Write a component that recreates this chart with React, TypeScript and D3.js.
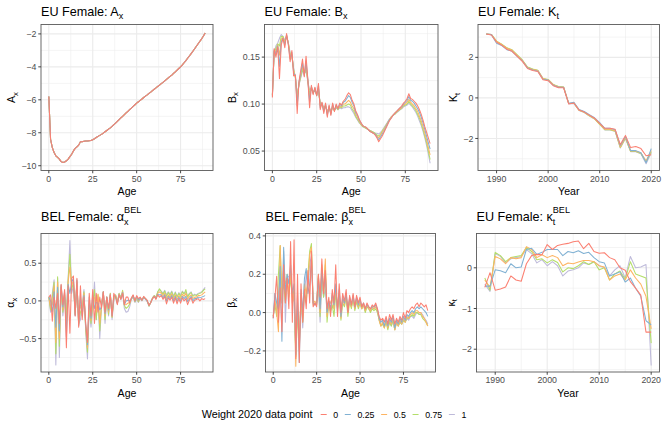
import * as d3 from 'd3';

const FONT = '"Liberation Sans", Arial, Helvetica, sans-serif';
const W = 664;
const H = 426;

// ---- categories ----
const ages = d3.range(0, 90);
const years = d3.range(1988, 2021);
const weightLabels = ['0', '0.25', '0.5', '0.75', '1'];
const weightColors = ['#FB8072', '#80B1D3', '#FDB462', '#B3DE69', '#BEBADA'];

// ---- EU Female A_x (all weights coincide) ----
const axEU = [
  -5.80, -8.40, -8.90, -9.20, -9.40, -9.50, -9.60, -9.75, -9.80, -9.78,
  -9.70, -9.60, -9.45, -9.30, -9.10, -8.95, -8.85, -8.75, -8.55, -8.55,
  -8.52, -8.50, -8.50, -8.48, -8.47, -8.42, -8.36, -8.29, -8.22, -8.16,
  -8.10, -8.02, -7.94, -7.86, -7.78, -7.70, -7.61, -7.51, -7.41, -7.31,
  -7.20, -7.10, -7.00, -6.90, -6.80, -6.70, -6.60, -6.50, -6.40, -6.30,
  -6.20, -6.12, -6.03, -5.95, -5.86, -5.78, -5.70, -5.61, -5.53, -5.44,
  -5.36, -5.28, -5.19, -5.11, -5.02, -4.94, -4.85, -4.76, -4.67, -4.58,
  -4.50, -4.40, -4.30, -4.20, -4.10, -4.00, -3.88, -3.75, -3.62, -3.48,
  -3.34, -3.20, -3.05, -2.90, -2.75, -2.60, -2.45, -2.30, -2.13, -1.95,
];

// ---- EU Female B_x ----
const bxW0 = [
  0.107, 0.159, 0.150, 0.161, 0.127, 0.163, 0.170, 0.160, 0.175, 0.163,
  0.145, 0.157, 0.130, 0.131, 0.090, 0.124, 0.136, 0.148, 0.129, 0.151,
  0.126, 0.096, 0.120, 0.110, 0.118, 0.109, 0.122, 0.094, 0.102, 0.090,
  0.101, 0.086, 0.099, 0.088, 0.101, 0.092, 0.100, 0.095, 0.101, 0.099,
  0.103, 0.105, 0.109, 0.112, 0.110, 0.104, 0.100, 0.093, 0.089, 0.084,
  0.080, 0.077, 0.076, 0.075, 0.073, 0.071, 0.070, 0.069, 0.067, 0.064,
  0.060, 0.063, 0.066, 0.070, 0.074, 0.078, 0.082, 0.085, 0.088, 0.090,
  0.092, 0.094, 0.096, 0.098, 0.101, 0.103, 0.106, 0.111, 0.106, 0.105,
  0.103, 0.101, 0.098, 0.094, 0.089, 0.083, 0.076, 0.070, 0.064, 0.058,
];
const bxW025 = [
  0.108, 0.158, 0.153, 0.162, 0.140, 0.166, 0.170, 0.163, 0.174, 0.164,
  0.148, 0.155, 0.133, 0.130, 0.098, 0.123, 0.133, 0.144, 0.130, 0.146,
  0.126, 0.102, 0.119, 0.111, 0.117, 0.109, 0.120, 0.096, 0.101, 0.092,
  0.100, 0.088, 0.098, 0.089, 0.100, 0.093, 0.099, 0.095, 0.100, 0.098,
  0.102, 0.103, 0.106, 0.109, 0.107, 0.102, 0.098, 0.091, 0.088, 0.083,
  0.080, 0.077, 0.076, 0.075, 0.073, 0.071, 0.070, 0.069, 0.068, 0.065,
  0.062, 0.065, 0.068, 0.071, 0.075, 0.079, 0.083, 0.085, 0.088, 0.090,
  0.092, 0.094, 0.096, 0.097, 0.100, 0.102, 0.104, 0.108, 0.104, 0.103,
  0.101, 0.098, 0.095, 0.091, 0.086, 0.080, 0.073, 0.066, 0.059, 0.052,
];
const bxW05 = [
  0.109, 0.157, 0.156, 0.163, 0.152, 0.169, 0.171, 0.165, 0.173, 0.165,
  0.151, 0.153, 0.135, 0.129, 0.104, 0.122, 0.131, 0.140, 0.131, 0.142,
  0.125, 0.107, 0.118, 0.112, 0.116, 0.109, 0.117, 0.098, 0.101, 0.094,
  0.099, 0.090, 0.097, 0.090, 0.098, 0.093, 0.098, 0.095, 0.098, 0.097,
  0.100, 0.100, 0.102, 0.104, 0.102, 0.098, 0.095, 0.089, 0.086, 0.082,
  0.079, 0.077, 0.076, 0.075, 0.073, 0.071, 0.070, 0.069, 0.068, 0.066,
  0.064, 0.067, 0.070, 0.073, 0.076, 0.080, 0.083, 0.086, 0.088, 0.090,
  0.092, 0.093, 0.095, 0.096, 0.099, 0.100, 0.102, 0.105, 0.102, 0.100,
  0.098, 0.095, 0.092, 0.087, 0.082, 0.076, 0.069, 0.062, 0.054, 0.046,
];
const bxW075 = [
  0.110, 0.156, 0.159, 0.164, 0.162, 0.172, 0.172, 0.166, 0.172, 0.165,
  0.153, 0.151, 0.137, 0.128, 0.108, 0.121, 0.129, 0.137, 0.132, 0.138,
  0.125, 0.111, 0.117, 0.112, 0.115, 0.110, 0.115, 0.100, 0.100, 0.095,
  0.098, 0.091, 0.096, 0.091, 0.097, 0.093, 0.097, 0.094, 0.097, 0.096,
  0.098, 0.098, 0.099, 0.100, 0.099, 0.095, 0.092, 0.087, 0.084, 0.081,
  0.078, 0.076, 0.075, 0.074, 0.073, 0.072, 0.071, 0.070, 0.069, 0.067,
  0.066, 0.068, 0.071, 0.074, 0.077, 0.080, 0.083, 0.086, 0.088, 0.089,
  0.091, 0.093, 0.094, 0.096, 0.098, 0.099, 0.100, 0.103, 0.100, 0.098,
  0.096, 0.093, 0.089, 0.085, 0.079, 0.073, 0.066, 0.059, 0.050, 0.041,
];
const bxW1 = [
  0.110, 0.155, 0.162, 0.165, 0.170, 0.174, 0.172, 0.168, 0.172, 0.165,
  0.155, 0.150, 0.138, 0.128, 0.112, 0.120, 0.128, 0.135, 0.133, 0.135,
  0.124, 0.115, 0.117, 0.113, 0.115, 0.110, 0.113, 0.102, 0.100, 0.097,
  0.097, 0.093, 0.096, 0.093, 0.096, 0.094, 0.096, 0.094, 0.096, 0.095,
  0.096, 0.096, 0.097, 0.097, 0.096, 0.093, 0.090, 0.086, 0.083, 0.080,
  0.078, 0.076, 0.075, 0.074, 0.073, 0.072, 0.071, 0.070, 0.069, 0.069,
  0.068, 0.070, 0.072, 0.075, 0.078, 0.081, 0.084, 0.086, 0.088, 0.089,
  0.091, 0.092, 0.094, 0.095, 0.097, 0.098, 0.099, 0.101, 0.099, 0.097,
  0.094, 0.091, 0.087, 0.082, 0.077, 0.071, 0.064, 0.056, 0.047, 0.037,
];

// ---- EU Female K_t ----
const ktW0 = [3.15, 3.10, 2.75, 2.60, 2.40, 2.30, 2.05, 1.80, 1.45, 1.35, 1.30, 0.90, 0.85, 0.60, 0.50, 0.50, -0.30, -0.25, -0.60, -0.70, -0.85, -1.00, -1.25, -1.50, -1.50, -1.55, -2.30, -1.85, -2.45, -2.40, -2.50, -2.85, -2.80];
const ktW025 = [3.15, 3.12, 2.70, 2.58, 2.38, 2.30, 2.05, 1.82, 1.48, 1.38, 1.32, 0.92, 0.88, 0.62, 0.52, 0.52, -0.27, -0.22, -0.57, -0.67, -0.83, -0.98, -1.22, -1.50, -1.50, -1.57, -2.35, -1.90, -2.60, -2.60, -2.70, -3.20, -2.50];
const ktW05 = [3.15, 3.13, 2.78, 2.63, 2.45, 2.35, 2.10, 1.85, 1.50, 1.40, 1.35, 0.95, 0.90, 0.65, 0.55, 0.53, -0.28, -0.25, -0.60, -0.70, -0.87, -1.02, -1.28, -1.55, -1.55, -1.62, -2.42, -1.95, -2.62, -2.62, -2.72, -3.10, -2.60];
const ktW075 = [3.15, 3.13, 2.80, 2.65, 2.47, 2.37, 2.12, 1.87, 1.52, 1.42, 1.36, 0.96, 0.91, 0.66, 0.56, 0.54, -0.28, -0.26, -0.61, -0.71, -0.88, -1.03, -1.30, -1.57, -1.57, -1.64, -2.45, -1.98, -2.64, -2.64, -2.74, -3.15, -2.65];
const ktW1 = [3.15, 3.12, 2.78, 2.64, 2.46, 2.36, 2.11, 1.86, 1.51, 1.41, 1.35, 0.95, 0.90, 0.65, 0.55, 0.53, -0.29, -0.27, -0.62, -0.72, -0.89, -1.04, -1.30, -1.58, -1.58, -1.65, -2.47, -2.00, -2.65, -2.65, -2.75, -3.25, -2.70];

// ---- BEL Female alpha_x ----
const alphaW0 = [
  0.05, 0.08, -0.27, 0.05, -0.10, 0.10, -0.30, 0.22, -0.05, 0.15,
  -0.62, 0.20, -0.43, 0.30, 0.33, -0.20, 0.30, -0.35, 0.20, -0.25,
  0.05, -0.30, -0.55, 0.10, -0.20, 0.15, -0.30, 0.10, -0.15, 0.05,
  -0.10, 0.12, -0.15, 0.05, -0.10, 0.08, -0.20, 0.10, 0.05, -0.05,
  0.08, 0.02, 0.10, -0.05, 0.05, 0.05, -0.03, 0.04, 0.08, 0.00,
  0.07, 0.03, 0.05, 0.01, 0.06, 0.03, 0.01, -0.06, -0.02, 0.03,
  0.06, 0.02, 0.08, 0.05, 0.07, 0.02, 0.06, -0.04, 0.04, 0.01,
  0.05, -0.03, 0.04, -0.04, 0.03, -0.03, 0.04, 0.00, 0.03, -0.05,
  0.01, 0.04, -0.03, 0.01, 0.02, 0.03, 0.00, 0.03, 0.02, 0.03,
];
const alphaW025 = [
  0.05, 0.00, -0.15, 0.12, -0.35, 0.18, -0.40, 0.21, -0.08, 0.12,
  -0.48, 0.22, 0.10, 0.25, 0.30, -0.19, 0.28, -0.33, 0.07, -0.20,
  0.07, -0.32, -0.58, 0.05, -0.23, 0.08, -0.10, -0.02, -0.03, -0.12,
  -0.08, 0.12, -0.17, 0.05, -0.12, 0.08, -0.20, 0.07, 0.06, -0.04,
  0.08, 0.02, 0.11, -0.05, 0.00, 0.01, 0.00, 0.03, 0.07, 0.00,
  0.06, 0.01, 0.04, 0.01, 0.05, 0.03, 0.00, -0.06, -0.02, 0.03,
  0.06, 0.03, 0.09, 0.08, 0.08, 0.04, 0.08, 0.00, 0.06, 0.03,
  0.07, 0.00, 0.06, -0.01, 0.05, 0.00, 0.06, 0.03, 0.06, -0.01,
  0.03, 0.06, 0.00, 0.03, 0.03, 0.05, 0.04, 0.05, 0.06, 0.07,
];
const alphaW05 = [
  0.05, -0.08, -0.05, 0.20, -0.55, 0.25, -0.50, 0.20, -0.12, 0.10,
  -0.35, 0.25, 0.45, 0.20, 0.28, -0.18, 0.27, -0.32, -0.05, -0.15,
  0.10, -0.35, -0.62, 0.00, -0.26, 0.02, 0.05, -0.15, 0.09, -0.30,
  -0.06, 0.12, -0.20, 0.05, -0.15, 0.09, -0.21, 0.05, 0.07, -0.03,
  0.09, 0.03, 0.12, -0.05, -0.05, -0.03, -0.02, 0.03, 0.07, 0.00,
  0.05, 0.00, 0.04, 0.01, 0.05, 0.03, 0.00, -0.06, -0.02, 0.03,
  0.06, 0.04, 0.10, 0.12, 0.10, 0.07, 0.10, 0.03, 0.08, 0.05,
  0.09, 0.03, 0.08, 0.02, 0.07, 0.03, 0.09, 0.06, 0.10, 0.02,
  0.06, 0.08, 0.03, 0.05, 0.05, 0.07, 0.07, 0.08, 0.10, 0.12,
];
const alphaW075 = [
  0.05, -0.12, 0.05, 0.25, -0.70, 0.32, -0.60, 0.18, -0.15, 0.08,
  -0.20, 0.28, 0.62, 0.15, 0.25, -0.18, 0.25, -0.30, -0.15, -0.10,
  0.12, -0.38, -0.68, -0.05, -0.30, -0.05, 0.15, -0.25, 0.08, -0.40,
  -0.05, 0.12, -0.25, 0.05, -0.18, 0.10, -0.22, 0.03, 0.08, -0.02,
  0.10, 0.04, 0.14, -0.06, -0.10, -0.08, -0.04, 0.03, 0.06, -0.01,
  0.04, -0.01, 0.04, 0.01, 0.05, 0.03, 0.00, -0.07, -0.02, 0.04,
  0.07, 0.05, 0.12, 0.16, 0.12, 0.09, 0.13, 0.06, 0.11, 0.07,
  0.12, 0.05, 0.11, 0.05, 0.10, 0.06, 0.12, 0.09, 0.15, 0.05,
  0.09, 0.11, 0.06, 0.08, 0.07, 0.09, 0.10, 0.11, 0.14, 0.16,
];
const alphaW1 = [
  0.05, -0.15, 0.10, 0.28, -0.85, 0.30, -0.75, 0.15, -0.20, 0.05,
  -0.10, 0.30, 0.80, 0.10, 0.20, -0.20, 0.25, -0.30, -0.25, -0.05,
  0.15, -0.40, -0.77, -0.10, -0.35, -0.10, 0.25, -0.25, 0.05, -0.50,
  -0.05, 0.12, -0.30, 0.05, -0.20, 0.10, -0.25, 0.00, 0.08, -0.02,
  0.10, 0.05, 0.12, -0.10, -0.15, -0.14, -0.08, 0.02, 0.05, -0.02,
  0.02, -0.02, 0.03, 0.00, 0.04, 0.02, -0.01, -0.07, -0.02, 0.04,
  0.07, 0.05, 0.12, 0.15, 0.13, 0.10, 0.14, 0.08, 0.12, 0.09,
  0.13, 0.07, 0.12, 0.06, 0.11, 0.08, 0.13, 0.10, 0.12, 0.06,
  0.10, 0.12, 0.07, 0.09, 0.08, 0.10, 0.11, 0.12, 0.15, 0.18,
];

// ---- BEL Female beta_x ----
const betaW0 = [
  -0.03, 0.08, 0.19, -0.05, 0.13, -0.10, 0.25, 0.05, 0.18, 0.02,
  0.37, -0.05, 0.38, -0.24, 0.20, -0.26, 0.15, -0.05, 0.12, 0.02,
  0.22, 0.05, 0.32, 0.03, 0.05, 0.03, 0.20, 0.08, 0.28, 0.10,
  0.22, 0.02, 0.08, -0.02, 0.12, 0.05, 0.25, -0.02, 0.15, 0.00,
  0.10, 0.06, 0.12, 0.00, 0.09, 0.04, 0.10, 0.03, 0.09, 0.05,
  0.08, 0.03, 0.05, 0.02, 0.05, 0.03, 0.02, 0.04, 0.03, 0.05,
  0.02, -0.02, -0.04, -0.03, -0.05, -0.02, -0.06, -0.01, -0.04, -0.01,
  -0.06, -0.03, -0.05, -0.02, -0.04, 0.00, -0.03, 0.01, 0.00, 0.02,
  0.03, 0.02, 0.04, 0.05, 0.03, 0.05, 0.04, 0.03, 0.04, 0.01,
];
const betaW025 = [
  -0.03, 0.10, 0.05, 0.02, 0.24, -0.15, 0.34, 0.10, 0.20, 0.15,
  0.25, 0.10, 0.15, -0.22, 0.10, -0.26, 0.12, 0.00, 0.18, 0.23,
  0.10, 0.15, 0.28, 0.05, 0.04, 0.05, 0.18, 0.02, 0.22, 0.12,
  0.20, 0.00, 0.06, 0.02, 0.10, 0.04, 0.15, 0.00, 0.12, -0.02,
  0.08, 0.05, 0.10, 0.01, 0.08, 0.04, 0.09, 0.03, 0.08, 0.04,
  0.07, 0.03, 0.05, 0.02, 0.04, 0.03, 0.02, 0.03, 0.03, 0.04,
  0.02, -0.03, -0.05, -0.04, -0.07, -0.03, -0.07, -0.03, -0.05, -0.02,
  -0.08, -0.04, -0.06, -0.03, -0.05, -0.02, -0.04, -0.01, -0.02, 0.00,
  0.01, 0.00, 0.02, 0.03, 0.02, 0.03, 0.02, 0.01, 0.00, -0.02,
];
const betaW05 = [
  -0.02, 0.06, 0.00, -0.10, 0.35, 0.05, 0.25, 0.15, 0.18, 0.10,
  0.22, 0.05, 0.10, -0.28, 0.05, -0.20, 0.10, -0.02, 0.15, 0.10,
  0.15, 0.30, 0.34, 0.05, 0.06, 0.04, 0.19, 0.00, 0.25, 0.10,
  0.28, -0.02, 0.04, 0.05, 0.08, 0.02, 0.12, 0.03, 0.10, -0.03,
  0.07, 0.04, 0.09, 0.00, 0.07, 0.03, 0.08, 0.02, 0.07, 0.03,
  0.06, 0.02, 0.04, 0.01, 0.04, 0.02, 0.01, 0.03, 0.02, 0.03,
  0.01, -0.04, -0.07, -0.05, -0.08, -0.04, -0.08, -0.04, -0.06, -0.03,
  -0.09, -0.05, -0.07, -0.04, -0.06, -0.03, -0.05, -0.02, -0.03, -0.01,
  0.00, -0.01, 0.01, 0.01, 0.00, 0.00, -0.02, -0.03, -0.05, -0.07,
];
const betaW075 = [
  -0.02, 0.04, -0.02, 0.20, 0.35, 0.10, 0.15, 0.05, 0.20, 0.08,
  0.18, 0.08, 0.12, -0.23, 0.00, -0.15, 0.08, -0.05, 0.12, 0.05,
  0.20, 0.32, 0.36, 0.04, 0.05, 0.04, 0.20, -0.02, 0.23, 0.08,
  0.25, -0.05, 0.05, 0.00, 0.04, -0.02, 0.10, 0.02, 0.08, -0.04,
  0.05, 0.03, 0.08, -0.02, 0.06, 0.02, 0.07, 0.01, 0.06, 0.02,
  0.05, 0.02, 0.04, 0.00, 0.03, 0.02, 0.00, 0.02, 0.01, 0.02,
  0.00, -0.04, -0.07, -0.06, -0.08, -0.05, -0.09, -0.05, -0.07, -0.04,
  -0.09, -0.05, -0.07, -0.05, -0.06, -0.04, -0.05, -0.03, -0.03, -0.02,
  -0.01, -0.02, 0.00, 0.00, -0.01, -0.01, -0.03, -0.04, -0.05, -0.07,
];
const betaW1 = [
  -0.02, 0.10, 0.00, 0.10, 0.20, 0.05, 0.32, -0.05, 0.18, 0.19,
  0.20, 0.10, 0.05, -0.20, 0.02, -0.18, 0.05, -0.08, 0.10, 0.20,
  0.15, 0.25, 0.30, 0.05, 0.04, 0.05, 0.12, -0.05, 0.15, 0.08,
  0.12, 0.00, 0.06, 0.05, 0.07, 0.02, 0.14, 0.02, 0.10, 0.02,
  0.06, 0.05, 0.07, 0.02, 0.06, 0.03, 0.07, 0.02, 0.06, 0.03,
  0.05, 0.02, 0.04, 0.01, 0.03, 0.02, 0.01, 0.02, 0.02, 0.03,
  0.01, -0.03, -0.07, -0.06, -0.07, -0.05, -0.08, -0.05, -0.07, -0.04,
  -0.09, -0.05, -0.07, -0.05, -0.06, -0.04, -0.05, -0.03, -0.04, -0.02,
  -0.02, -0.03, -0.01, 0.00, -0.01, 0.00, -0.01, -0.03, -0.04, -0.06,
];

// ---- EU Female kappa_t^BEL ----
const kappaW0 = [-0.48, -0.12, -0.55, -0.52, -0.47, -0.20, -0.30, -0.33, 0.10, 0.30, 0.33, 0.32, 0.57, 0.45, 0.55, 0.58, 0.60, 0.64, 0.66, 0.47, 0.60, 0.40, 0.36, 0.37, 0.25, 0.20, 0.00, -0.06, -0.34, -0.50, -0.67, -1.58, -1.58];
const kappaW025 = [-0.45, -0.45, -0.05, -0.07, -0.12, 0.10, 0.00, 0.02, 0.45, 0.48, 0.33, 0.38, 0.45, 0.45, 0.45, 0.30, 0.40, 0.37, 0.42, 0.35, 0.38, 0.25, 0.15, 0.12, -0.20, -0.15, -0.10, -0.35, -0.25, -0.50, -0.70, -1.30, -1.40];
const kappaW05 = [-0.30, -0.48, 0.28, 0.22, 0.10, 0.25, 0.22, 0.25, 0.52, 0.45, 0.25, 0.32, 0.25, 0.30, 0.25, 0.05, 0.12, 0.10, 0.14, 0.18, 0.18, 0.15, 0.05, 0.02, -0.30, -0.20, -0.15, -0.30, -0.05, -0.25, -0.40, -0.70, -1.50];
const kappaW075 = [-0.25, -0.55, 0.38, 0.30, 0.15, 0.25, 0.28, 0.30, 0.50, 0.40, 0.20, 0.22, 0.12, 0.20, 0.13, -0.10, 0.00, -0.02, 0.05, 0.15, 0.08, 0.15, -0.05, 0.00, -0.30, -0.15, -0.08, -0.28, 0.15, -0.15, -0.20, -0.25, -1.85];
const kappaW1 = [-0.40, -0.58, 0.35, 0.28, 0.12, 0.22, 0.25, 0.28, 0.45, 0.35, 0.12, 0.20, 0.05, 0.15, 0.05, -0.20, -0.08, -0.05, 0.00, 0.12, 0.08, 0.15, 0.05, 0.00, -0.20, -0.05, 0.05, -0.25, 0.28, 0.00, 0.02, 0.08, -2.40];

const ageTicks = [0, 25, 50, 75];
const ageMinor = [12.5, 37.5, 62.5, 87.5];
const yearTicks = [1990, 2000, 2010, 2020];
const yearMinor = [1995, 2005, 2015];

type Label = { prefix?: string; base: string; sub: string; sup?: string };

interface PanelSpec {
  box: [number, number, number, number];
  titleY: number;
  yTitleX: number;
  x: number[];
  series: number[][];
  xDomain: [number, number];
  yDomain: [number, number];
  xTicks: number[];
  xMinor: number[];
  yTicks: number[];
  yMinor: number[];
  yFmt: (v: number) => string;
  title: Label;
  xTitle: string;
  yTitle: Label;
}

const minus = (s: string) => s.replace('-', '\u2212');
const fmt0 = (v: number) => minus(d3.format('d')(v));
const fmt1 = (v: number) => minus(d3.format('.1f')(v));
const fmt2 = (v: number) => minus(d3.format('.2f')(v));

const panels: PanelSpec[] = [
  {
    box: [41, 24.5, 213, 170.5], titleY: 16, yTitleX: 11.5,
    x: ages, series: [axEU, axEU, axEU, axEU, axEU],
    xDomain: [-4.45, 93.45], yDomain: [-10.29, -1.43],
    xTicks: ageTicks, xMinor: ageMinor, yTicks: [-10, -8, -6, -4, -2], yMinor: [-9, -7, -5, -3],
    yFmt: fmt0, title: { prefix: 'EU Female: ', base: 'A', sub: 'x' }, xTitle: 'Age', yTitle: { base: 'A', sub: 'x' },
  },
  {
    box: [264.5, 24.5, 438, 170.5], titleY: 16, yTitleX: 232,
    x: ages, series: [bxW0, bxW025, bxW05, bxW075, bxW1],
    xDomain: [-4.45, 93.45], yDomain: [0.0293, 0.1847],
    xTicks: ageTicks, xMinor: ageMinor, yTicks: [0.05, 0.1, 0.15], yMinor: [0.075, 0.125, 0.175],
    yFmt: fmt2, title: { prefix: 'EU Female: ', base: 'B', sub: 'x' }, xTitle: 'Age', yTitle: { base: 'B', sub: 'x' },
  },
  {
    box: [478, 24.5, 659.5, 170.5], titleY: 16, yTitleX: 453.5,
    x: years, series: [ktW0, ktW025, ktW05, ktW075, ktW1],
    xDomain: [1986.4, 2021.6], yDomain: [-3.58, 3.62],
    xTicks: yearTicks, xMinor: yearMinor, yTicks: [-2, 0, 2], yMinor: [-3, -1, 1, 3],
    yFmt: fmt0, title: { prefix: 'EU Female: ', base: 'K', sub: 't' }, xTitle: 'Year', yTitle: { base: 'K', sub: 't' },
  },
  {
    box: [41, 233.5, 213, 372], titleY: 220.5, yTitleX: 10.5,
    x: ages, series: [alphaW0, alphaW025, alphaW05, alphaW075, alphaW1],
    xDomain: [-4.45, 93.45], yDomain: [-0.943, 0.894],
    xTicks: ageTicks, xMinor: ageMinor, yTicks: [-0.5, 0, 0.5], yMinor: [-0.75, -0.25, 0.25, 0.75],
    yFmt: fmt1, title: { prefix: 'BEL Female: ', base: '\u03b1', sub: 'x', sup: 'BEL' }, xTitle: 'Age', yTitle: { base: '\u03b1', sub: 'x' },
  },
  {
    box: [265.5, 233.5, 435.5, 372], titleY: 220.5, yTitleX: 231,
    x: ages, series: [betaW0, betaW025, betaW05, betaW075, betaW1],
    xDomain: [-4.45, 93.45], yDomain: [-0.31, 0.4125],
    xTicks: ageTicks, xMinor: ageMinor, yTicks: [-0.2, 0, 0.2, 0.4], yMinor: [-0.3, -0.1, 0.1, 0.3],
    yFmt: fmt1, title: { prefix: 'BEL Female: ', base: '\u03b2', sub: 'x', sup: 'BEL' }, xTitle: 'Age', yTitle: { base: '\u03b2', sub: 'x' },
  },
  {
    box: [476.5, 233.5, 659.5, 372], titleY: 220.5, yTitleX: 451,
    x: years, series: [kappaW0, kappaW025, kappaW05, kappaW075, kappaW1],
    xDomain: [1986.4, 2021.6], yDomain: [-2.56, 0.843],
    xTicks: yearTicks, xMinor: yearMinor, yTicks: [-2, -1, 0], yMinor: [-2.5, -1.5, -0.5, 0.5],
    yFmt: fmt0, title: { prefix: 'EU Female: ', base: '\u03ba', sub: 't', sup: 'BEL' }, xTitle: 'Year', yTitle: { base: '\u03ba', sub: 't' },
  },
];

// plotmath-like label: base with subscript, optional superscript stacked above it
function MathSpans({ label, size }: { label: Label; size: number }) {
  const s = size * 0.72;
  const subW = (label.sub === 't' ? 0.278 : 0.5) * s;
  return (
    <>
      <tspan>{(label.prefix ?? '') + label.base}</tspan>
      <tspan fontSize={s} dy={label.sup ? size * 0.32 : size * 0.24}>{label.sub}</tspan>
      {label.sup && (
        <tspan fontSize={s} dx={-subW} dy={-size * 0.95}>{label.sup}</tspan>
      )}
    </>
  );
}

function Panel({ p }: { p: PanelSpec }) {
  const [l, t, r, b] = p.box;
  const x = d3.scaleLinear().domain(p.xDomain).range([l, r]);
  const y = d3.scaleLinear().domain(p.yDomain).range([b, t]);
  const line = d3.line<number>().x((_, i) => x(p.x[i])).y((d) => y(d));
  const tickLen = 2.75;
  // draw weight 1 first so weight 0 ends up on top
  const order = [4, 3, 2, 1, 0];

  return (
    <g>
      <rect x={l} y={t} width={r - l} height={b - t} fill="#fff" />
      {p.xMinor.map((v) => (
        <line key={'xm' + v} x1={x(v)} x2={x(v)} y1={t} y2={b} stroke="#EBEBEB" strokeWidth={0.55} />
      ))}
      {p.yMinor.map((v) => (
        <line key={'ym' + v} x1={l} x2={r} y1={y(v)} y2={y(v)} stroke="#EBEBEB" strokeWidth={0.55} />
      ))}
      {p.xTicks.map((v) => (
        <line key={'xg' + v} x1={x(v)} x2={x(v)} y1={t} y2={b} stroke="#EBEBEB" strokeWidth={1.1} />
      ))}
      {p.yTicks.map((v) => (
        <line key={'yg' + v} x1={l} x2={r} y1={y(v)} y2={y(v)} stroke="#EBEBEB" strokeWidth={1.1} />
      ))}
      {order.map((k) => (
        <path key={'s' + k} d={line(p.series[k]) ?? ''} fill="none" stroke={weightColors[k]} strokeWidth={1.05} strokeLinejoin="round" />
      ))}
      <rect x={l} y={t} width={r - l} height={b - t} fill="none" stroke="#5a5a5a" strokeWidth={0.9} />
      {p.xTicks.map((v) => (
        <g key={'xt' + v}>
          <line x1={x(v)} x2={x(v)} y1={b} y2={b + tickLen} stroke="#333" strokeWidth={0.9} />
          <text x={x(v)} y={b + 11.2} textAnchor="middle" fontSize={8.8} fill="#4D4D4D">{fmt0(v)}</text>
        </g>
      ))}
      {p.yTicks.map((v) => (
        <g key={'yt' + v}>
          <line x1={l - tickLen} x2={l} y1={y(v)} y2={y(v)} stroke="#333" strokeWidth={0.9} />
          <text x={l - 4.6} y={y(v) + 3.1} textAnchor="end" fontSize={8.8} fill="#4D4D4D">{p.yFmt(v)}</text>
        </g>
      ))}
      <text x={(l + r) / 2} y={b + 24.5} textAnchor="middle" fontSize={10.6} fill="#000">{p.xTitle}</text>
      <text transform={`translate(${p.yTitleX + 3.5},${(t + b) / 2}) rotate(-90)`} textAnchor="middle" fontSize={10.6} fill="#000">
        <MathSpans label={p.yTitle} size={10.6} />
      </text>
      <text x={l} y={p.titleY} fontSize={12.6} fill="#000">
        <MathSpans label={p.title} size={12.6} />
      </text>
    </g>
  );
}

function Legend() {
  const fs = 8.8;
  const keyW = 6;
  const gap = 6.6;
  const charW = (s: string) => d3.sum(s.split(''), (c) => (c === '.' ? 0.278 : 0.556)) * fs;
  let cursor = 320.7;
  const items = weightLabels.map((lab, i) => {
    const kx = cursor;
    const tx = kx + keyW + gap;
    cursor = tx + charW(lab) + gap;
    return { lab, i, kx, tx };
  });
  const yMid = 414.5;
  return (
    <g>
      <text x={312.5} y={yMid + 3.8} textAnchor="end" fontSize={10.8} fill="#000">Weight 2020 data point</text>
      {items.map((it) => (
        <g key={it.lab}>
          <line x1={it.kx} x2={it.kx + keyW} y1={yMid} y2={yMid} stroke={weightColors[it.i]} strokeWidth={1.05} />
          <text x={it.tx} y={yMid + 3.1} fontSize={fs} fill="#000">{it.lab}</text>
        </g>
      ))}
    </g>
  );
}

export default function App() {
  return (
    <div style={{ position: 'fixed', left: 0, top: 0 }}>
      <svg width={W} height={H} viewBox={`0 0 ${W} ${H}`} fontFamily={FONT} style={{ display: 'block', background: '#fff' }}>
        <rect width={W} height={H} fill="#fff" />
        {panels.map((p, i) => (
          <Panel key={i} p={p} />
        ))}
        <Legend />
      </svg>
    </div>
  );
}
